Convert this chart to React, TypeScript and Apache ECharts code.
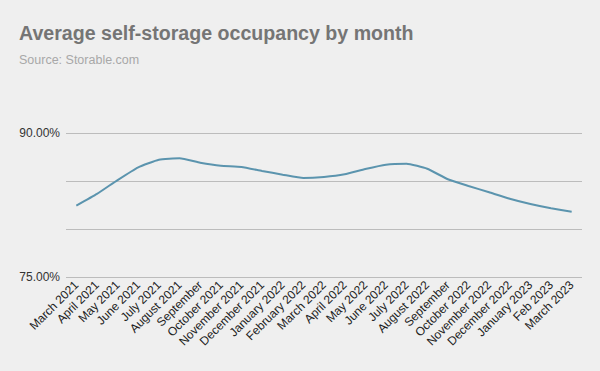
import React, { useEffect, useRef } from "react";
import * as echarts from "echarts";

const months = [
  "March 2021", "April 2021", "May 2021", "June 2021", "July 2021", "August 2021",
  "September", "October 2021", "November 2021", "December 2021", "January 2022",
  "February 2022", "March 2022", "April 2022", "May 2022", "June 2022", "July 2022",
  "August 2022", "September", "October 2022", "November 2022", "December 2022",
  "January 2023", "Feb 2023", "March 2023",
];

const occupancy = [
  82.43, 83.65, 85.1, 86.43, 87.22, 87.36, 86.91, 86.59, 86.46, 86.04, 85.66,
  85.31, 85.42, 85.7, 86.25, 86.7, 86.8, 86.28, 85.18, 84.48, 83.82, 83.15,
  82.6, 82.16, 81.8,
];

const yLabelValues = [75, 90];

export default function App() {
  const ref = useRef<HTMLDivElement>(null);
  useEffect(() => {
    if (!ref.current) return;
    const chart = echarts.init(ref.current, null, { renderer: "svg" });
    chart.setOption({
      animation: false,
      backgroundColor: "#efefef",
      title: {
        text: "Average self-storage occupancy by month",
        subtext: "Source: Storable.com",
        left: 14,
        top: 18,
        itemGap: 10,
        textStyle: {
          fontFamily: "Liberation Sans, Arial, sans-serif",
          fontSize: 19.6,
          fontWeight: "bold",
          color: "#757575",
        },
        subtextStyle: {
          fontFamily: "Liberation Sans, Arial, sans-serif",
          fontSize: 12.5,
          color: "#a8a8a8",
        },
      },
      grid: { left: 66, right: 18, top: 133, bottom: 94 },
      xAxis: {
        type: "category",
        data: months,
        boundaryGap: true,
        axisLine: { show: false },
        axisTick: { show: false },
        axisLabel: {
          rotate: 45,
          interval: 0,
          margin: 6,
          fontFamily: "Liberation Sans, Arial, sans-serif",
          fontSize: 12,
          color: "#222",
        },
      },
      yAxis: {
        type: "value",
        min: 75,
        max: 90,
        interval: 5,
        axisLine: { show: false },
        axisTick: { show: false },
        splitLine: { lineStyle: { color: "#bcbcbc", width: 1 } },
        axisLabel: {
          margin: 6,
          fontFamily: "Liberation Sans, Arial, sans-serif",
          fontSize: 12,
          color: "#333",
          formatter: (v: number) =>
            yLabelValues.includes(v) ? v.toFixed(2) + "%" : "",
        },
      },
      series: [
        {
          type: "line",
          data: occupancy,
          showSymbol: false,
          smooth: 0.15,
          lineStyle: { color: "#5b94ae", width: 2 },
          itemStyle: { color: "#5b94ae" },
        },
      ],
    });
    return () => chart.dispose();
  }, []);
  return (
    <div
      ref={ref}
      style={{ width: 600, height: 371, position: "fixed", left: 0, top: 0 }}
    />
  );
}
